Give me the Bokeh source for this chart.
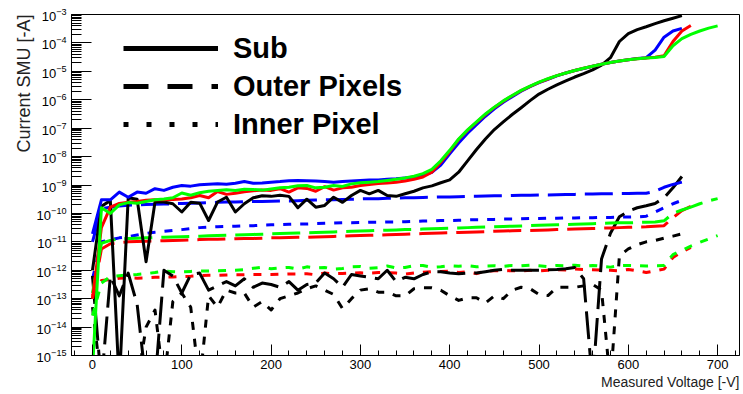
from bokeh.plotting import figure
from bokeh.models import Range1d, FixedTicker, LogTickFormatter, Legend, LegendItem, Title
from bokeh.embed import file_html
from bokeh.resources import INLINE

# Measured voltage grid [-V] (10 V steps)
VOLT = list(range(0, 710, 10))

# log10 of current [-A]
BLACK_SUB = [-12.0, -9.75, -9.55, -16.0, -9.45, -9.5, -11.7, -9.6, -9.6, -9.66,
             -9.95, -9.61, -9.64, -10.25, -9.6, -9.43, -9.95, -9.66, -9.45, -9.38,
             -9.4, -9.36, -9.4, -9.8, -9.5, -9.78, -9.72, -9.43, -9.61, -9.37,
             -9.19, -9.31, -9.19, -9.37, -9.4, -9.31, -9.22, -9.1, -9.03, -8.92,
             -8.82, -8.55, -8.15, -7.75, -7.38, -7.05, -6.78, -6.52, -6.28, -6.03,
             -5.8, -5.63, -5.48, -5.34, -5.2, -5.08, -4.95, -4.78, -4.52, -3.95,
             -3.67, -3.53, -3.43, -3.32, -3.22, -3.13, -3.04]
BLUE_SUB = [-10.72, -9.52, -9.52, -9.25, -9.43, -9.25, -9.29, -9.13, -9.19, -9.08,
            -9.02, -9.04, -8.99, -8.97, -8.96, -8.97, -8.94, -8.88, -8.94, -8.93,
            -8.9, -8.88, -8.85, -8.84, -8.85, -8.86, -8.88, -8.9, -8.88, -8.86,
            -8.84, -8.82, -8.82, -8.8, -8.78, -8.75, -8.72, -8.66, -8.55, -8.3,
            -7.9, -7.52, -7.18, -6.88, -6.58, -6.32, -6.09, -5.89, -5.7, -5.54,
            -5.4, -5.28, -5.16, -5.06, -4.97, -4.9, -4.82, -4.75, -4.69, -4.64,
            -4.59, -4.55, -4.52, -4.25, -3.8, -3.58, -3.49]
RED_SUB = [-13.0, -10.5, -9.78, -9.65, -9.61, -9.58, -9.54, -9.52, -9.52, -9.51,
           -9.49, -9.45, -9.37, -9.45, -9.23, -9.33, -9.29, -9.24, -9.2, -9.18,
           -9.19, -9.13, -9.25, -9.1, -9.12, -9.22, -9.06, -9.18, -9.1, -9.08,
           -9.02, -8.98, -8.95, -8.93, -8.9, -8.86, -8.8, -8.72, -8.55, -8.2,
           -7.82, -7.4, -7.08, -6.8, -6.52, -6.27, -6.05, -5.86, -5.68, -5.53,
           -5.39, -5.27, -5.15, -5.06, -4.97, -4.89, -4.82, -4.75, -4.69, -4.64,
           -4.59, -4.56, -4.53, -4.5, -4.45, -3.95, -3.58, -3.39]
GREEN_SUB = [-15.5, -9.8, -10.0, -9.7, -9.62, -9.64, -9.58, -9.52, -9.49, -9.45,
             -9.28, -9.36, -9.27, -9.22, -9.19, -9.17, -9.19, -9.15, -9.16, -9.18,
             -9.14, -9.1, -9.08, -9.03, -9.02, -9.1, -9.08, -9.02, -9.05, -8.96,
             -8.92, -8.9, -8.88, -8.84, -8.8, -8.75, -8.69, -8.6, -8.45, -8.15,
             -7.78, -7.38, -7.06, -6.78, -6.5, -6.26, -6.04, -5.85, -5.67, -5.52,
             -5.38, -5.26, -5.15, -5.06, -4.97, -4.89, -4.82, -4.75, -4.69, -4.64,
             -4.59, -4.56, -4.53, -4.51, -4.48, -4.1, -3.85, -3.7, -3.58, -3.48,
             -3.4]

BLACK_OUT = [-12.2, -16.0, -12.2, -12.9, -12.1, -13.2, -16.0, -16.0, -12.0, -12.2,
             -12.8, -12.15, -12.1, -12.7, -12.55, -12.4, -12.55, -12.3, -12.6, -12.45,
             -12.5, -12.6, -12.4, -12.7, -12.5, -12.45, -12.1, -12.3, -12.6, -12.15,
             -12.2, -12.25, -12.3, -12.0, -12.4, -12.25, -12.3, -12.15, -12.05, -12.05,
             -12.1, -12.12, -12.1, -12.1, -12.05, -12.0, -11.97, -12.0, -12.0, -12.0,
             -12.0, -11.98, -11.97, -11.95, -11.9, -12.3, -16.0, -11.6, -10.7, -10.12,
             -9.92, -9.8, -9.73, -9.65, -9.45, -9.1, -8.7]
BLUE_OUT = [-11.0, -9.84, -9.78, -9.74, -9.71, -9.7, -9.69, -9.68, -9.67, -9.66,
            -9.65, -9.64, -9.63, -9.62, -9.61, -9.6, -9.6, -9.59, -9.58, -9.58,
            -9.57, -9.56, -9.56, -9.55, -9.54, -9.53, -9.52, -9.52, -9.51, -9.5,
            -9.49, -9.48, -9.48, -9.47, -9.46, -9.45, -9.45, -9.44, -9.43, -9.42,
            -9.42, -9.41, -9.4, -9.4, -9.39, -9.38, -9.38, -9.37, -9.36, -9.36,
            -9.35, -9.35, -9.34, -9.33, -9.33, -9.32, -9.32, -9.31, -9.31, -9.3,
            -9.3, -9.29, -9.29, -9.22, -9.08, -8.98, -8.9]
RED_OUT = [-13.0, -11.25, -11.07, -11.02, -11.0, -10.99, -10.98, -10.97, -10.96, -10.95,
           -10.94, -10.93, -10.92, -10.91, -10.91, -10.9, -10.89, -10.88, -10.88, -10.87,
           -10.86, -10.86, -10.85, -10.84, -10.84, -10.83, -10.82, -10.81, -10.8, -10.79,
           -10.78, -10.77, -10.76, -10.75, -10.74, -10.73, -10.72, -10.71, -10.7, -10.69,
           -10.68, -10.67, -10.66, -10.65, -10.64, -10.63, -10.62, -10.61, -10.6, -10.6,
           -10.59, -10.58, -10.57, -10.56, -10.55, -10.54, -10.53, -10.52, -10.51, -10.5,
           -10.49, -10.48, -10.47, -10.45, -10.43, -10.15, -9.9, -9.75]
GREEN_OUT = [-12.8, -11.05, -10.95, -10.9, -10.88, -10.87, -10.86, -10.85, -10.84, -10.83,
             -10.82, -10.81, -10.8, -10.79, -10.78, -10.77, -10.76, -10.75, -10.74, -10.73,
             -10.72, -10.71, -10.7, -10.69, -10.68, -10.67, -10.66, -10.65, -10.64, -10.63,
             -10.62, -10.61, -10.6, -10.59, -10.58, -10.57, -10.56, -10.55, -10.54, -10.53,
             -10.52, -10.51, -10.5, -10.49, -10.48, -10.47, -10.46, -10.45, -10.44, -10.43,
             -10.42, -10.41, -10.4, -10.39, -10.38, -10.37, -10.36, -10.35, -10.34, -10.33,
             -10.33, -10.32, -10.31, -10.3, -10.26, -10.0, -9.88, -9.78, -9.66, -9.56,
             -9.48]

BLACK_IN = [-13.3, -16.0, -16.0, -16.0, -16.0, -16.0, -14.0, -13.4, -16.0, -13.1,
            -12.8, -13.3, -16.0, -12.9, -13.3, -12.7, -12.8, -12.8, -13.3, -13.1,
            -13.4, -13.0, -12.9, -12.8, -12.65, -12.55, -12.7, -12.85, -13.35, -13.0,
            -12.7, -12.65, -12.77, -12.77, -12.9, -12.9, -12.65, -12.62, -12.62, -12.7,
            -12.9, -13.06, -12.97, -12.97, -13.15, -12.9, -13.0, -12.7, -12.6, -12.65,
            -12.85, -12.89, -12.6, -12.6, -12.6, -12.55, -12.5, -12.7, -16.0, -11.5,
            -11.25, -11.1, -11.0, -10.95, -10.87, -10.8, -10.72]
BLUE_IN = [-12.3, -11.0, -10.93, -10.86, -10.82, -10.76, -10.7, -10.66, -10.63, -10.6,
           -10.57, -10.53, -10.5, -10.48, -10.47, -10.46, -10.45, -10.44, -10.43, -10.41,
           -10.4, -10.39, -10.38, -10.37, -10.37, -10.36, -10.35, -10.34, -10.33, -10.33,
           -10.32, -10.31, -10.31, -10.3, -10.3, -10.29, -10.28, -10.27, -10.26, -10.25,
           -10.25, -10.24, -10.23, -10.22, -10.22, -10.21, -10.2, -10.2, -10.19, -10.18,
           -10.18, -10.17, -10.17, -10.16, -10.16, -10.15, -10.15, -10.14, -10.14, -10.13,
           -10.13, -10.12, -10.1, -9.95, -9.8, -9.66, -9.54]
RED_IN = [-12.9, -12.36, -12.33, -12.28, -12.27, -12.28, -12.27, -12.25, -12.24, -12.24,
          -12.22, -12.21, -12.19, -12.18, -12.18, -12.17, -12.16, -12.16, -12.15, -12.15,
          -12.15, -12.14, -12.13, -12.13, -12.12, -12.16, -12.1, -12.12, -12.11, -12.1,
          -12.09, -12.1, -12.08, -12.08, -12.1, -12.14, -12.1, -12.07, -12.05, -12.04,
          -12.03, -12.08, -12.05, -12.12, -12.03, -12.02, -12.02, -12.01, -12.03, -12.0,
          -12.02, -12.0, -11.98, -11.99, -11.96, -11.97, -11.98, -11.99, -12.0, -12.02,
          -11.97, -12.02, -12.08, -12.02, -11.96, -11.55, -11.35, -11.2]
GREEN_IN = [-13.6, -12.45, -12.22, -12.19, -12.17, -12.15, -12.12, -12.08, -12.03, -12.05,
            -12.06, -12.04, -12.03, -12.03, -12.02, -12.01, -12.0, -11.98, -11.93, -11.89,
            -11.95, -11.92, -11.9, -11.96, -11.88, -11.92, -11.9, -11.96, -11.94, -11.88,
            -11.87, -11.93, -11.91, -11.85, -11.92, -11.9, -11.84, -11.83, -11.9, -11.88,
            -11.84, -11.86, -11.84, -11.88, -11.85, -11.84, -11.86, -11.83, -11.84, -11.82,
            -11.84, -11.87, -11.83, -11.84, -11.82, -11.85, -11.83, -11.86, -11.89, -11.84,
            -11.83, -11.84, -11.85, -11.84, -11.83, -11.45, -11.3, -11.15, -11.02, -10.9,
            -10.78]

# axis ticks
X_MAJOR = [0, 100, 200, 300, 400, 500, 600, 700]
X_MINOR = [-20, 20, 40, 60, 80, 120, 140, 160, 180, 220, 240, 260, 280,
           320, 340, 360, 380, 420, 440, 460, 480, 520, 540, 560, 580,
           620, 640, 660, 680, 720]
Y_DECADES = [-15, -14, -13, -12, -11, -10, -9, -8, -7, -6, -5, -4, -3]
Y_MANTISSAS = [2, 3, 4, 5, 6, 7, 8, 9]

COLORS = {"black": "#000000", "blue": "#0000ff", "red": "#ff0000", "green": "#00ff00"}
SERIES = {
    "dotted": [("black", BLACK_IN), ("blue", BLUE_IN), ("red", RED_IN), ("green", GREEN_IN)],
    "dashed": [("black", BLACK_OUT), ("blue", BLUE_OUT), ("red", RED_OUT), ("green", GREEN_OUT)],
    "solid": [("black", BLACK_SUB), ("blue", BLUE_SUB), ("red", RED_SUB), ("green", GREEN_SUB)],
}
DASH = {"solid": "solid", "dashed": "28 9", "dotted": "8 9"}
LEG_DASH = {"solid": "solid", "dashed": "25 19", "dotted": "5 18"}
LEG_LABELS = [("solid", "Sub"), ("dashed", "Outer Pixels"), ("dotted", "Inner Pixel")]

FONT = "Liberation Sans"

p = figure(width=743, height=394, y_axis_type="log",
           x_range=Range1d(-23.5, 724.5), y_range=Range1d(1e-15, 1e-3),
           output_backend="svg", toolbar_location=None,
           min_border_left=71, min_border_right=4, min_border_top=14, min_border_bottom=39)
p.xgrid.visible = False
p.ygrid.visible = False
p.outline_line_color = "black"
p.outline_line_width = 1
p.background_fill_color = "white"
p.border_fill_color = "white"

for style in ["dotted", "dashed", "solid"]:
    for cname, vals in SERIES[style]:
        xs = VOLT[:len(vals)]
        ys = [10.0 ** v for v in vals]
        p.line(xs, ys, line_color=COLORS[cname], line_width=3, line_dash=DASH[style],
               line_join="round")

# legend proxies (a single off-range point draws nothing in the plot)
items = []
for style, label in LEG_LABELS:
    r = p.line([-1000], [1e-20], line_color="black", line_width=5, line_dash=LEG_DASH[style])
    items.append(LegendItem(label=label, renderers=[r]))
leg = Legend(items=items, location=(52, 212), orientation="vertical",
             glyph_width=95, glyph_height=38, label_height=38, label_standoff=15,
             spacing=0, padding=0, margin=0, border_line_color=None,
             background_fill_alpha=0, label_text_font=FONT, label_text_font_style="bold",
             label_text_font_size="29px", label_text_color="black")
p.add_layout(leg)

# x axis
p.xaxis.ticker = FixedTicker(ticks=X_MAJOR, minor_ticks=X_MINOR)
p.xaxis.major_tick_in = 11
p.xaxis.major_tick_out = 0
p.xaxis.minor_tick_in = 5
p.xaxis.minor_tick_out = 0
p.xaxis.major_label_standoff = 4
p.xaxis.major_label_text_font = FONT
p.xaxis.major_label_text_font_size = "13px"
p.xaxis.major_label_text_color = "black"
p.xaxis.axis_line_color = "black"
p.xaxis.major_tick_line_color = "black"
p.xaxis.minor_tick_line_color = "black"

# y axis
p.yaxis.ticker = FixedTicker(ticks=[10.0 ** e for e in Y_DECADES],
                             minor_ticks=[m * 10.0 ** e for e in Y_DECADES[:-1] for m in Y_MANTISSAS])
p.yaxis.formatter = LogTickFormatter()
p.yaxis.major_tick_in = 20
p.yaxis.major_tick_out = 0
p.yaxis.minor_tick_in = 10
p.yaxis.minor_tick_out = 0
p.yaxis.major_label_standoff = 5
p.yaxis.major_label_text_font = FONT
p.yaxis.major_label_text_font_size = "13px"
p.yaxis.major_label_text_color = "black"
p.yaxis.axis_line_color = "black"
p.yaxis.major_tick_line_color = "black"
p.yaxis.minor_tick_line_color = "black"

p.add_layout(Title(text="Measured Voltage [-V]", align="right", text_font=FONT,
                   text_font_size="14px", text_font_style="normal", text_color="#222222",
                   standoff=0, offset=0), "below")
p.add_layout(Title(text="Current SMU [-A]", align="right", text_font=FONT,
                   text_font_size="18px", text_font_style="normal", text_color="#222222",
                   standoff=0, offset=0), "left")

open("out.html", "w").write(file_html(p, INLINE))
